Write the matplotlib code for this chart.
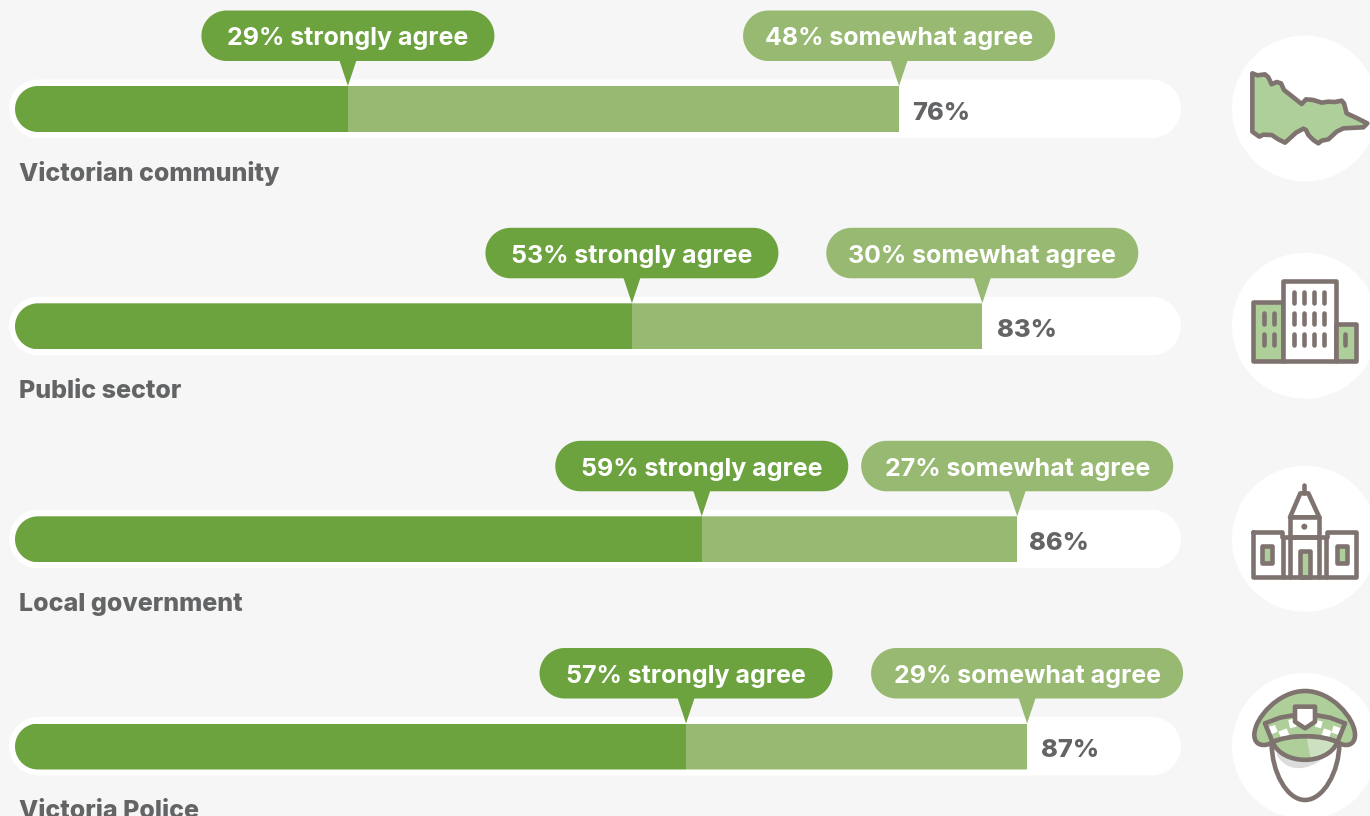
import numpy as np
import matplotlib
matplotlib.use("Agg")
import matplotlib.pyplot as plt
from matplotlib.patches import Circle, Polygon, PathPatch
from matplotlib.path import Path

# values
groups = ["Victorian community", "Public sector", "Local government", "Victoria Police"]
strongly = [28.6, 53, 59, 57.65]
totals = [75.95, 83.1, 86.1, 86.95]
strongly_labels = ["29% strongly agree", "53% strongly agree", "59% strongly agree", "57% strongly agree"]
somewhat_labels = ["48% somewhat agree", "30% somewhat agree", "27% somewhat agree", "29% somewhat agree"]
total_labels = ["76%", "83%", "86%", "87%"]

# layout, in pixels
W, H = 1370, 816
row_tops = [86, 303.3, 516.3, 723.5]
total_gaps = [13, 15, 12, 14]
BAR_H = 46
BG = "#f6f6f6"
DARK = "#6da33f"
LIGHT = "#98b972"
GREY = "#636466"
STROKE = "#7f7370"
FILL = "#aecf9a"
FONT = "Inter"
LW = 3.3

fig = plt.figure(figsize=(W / 100, H / 100), dpi=100, facecolor=BG)
back = fig.add_axes([0, 0, 1, 1], zorder=1)
back.set_xlim(0, W)
back.set_ylim(H, 0)
back.axis("off")

# x axis is percent, 0 at px 15 and 100 at px 1179; y stays in pixels
ax = fig.add_axes([15 / W, 0, 1164 / W, 1], zorder=2)
ax.set_xlim(0, 100)
ax.set_ylim(H, 0)
ax.axis("off")


def rounded(x, y, w, h, color, z=1):
    # real half circles at both ends, the round boxstyle comes out too square
    r = h / 2
    t = np.linspace(-np.pi / 2, np.pi / 2, 40)
    right = np.c_[x + w - r + r * np.cos(t), y + r + r * np.sin(t)]
    left = np.c_[x + r - r * np.cos(t), y + r - r * np.sin(t)]
    p = Polygon(np.r_[right, left], closed=True, fc=color, ec="none", zorder=z)
    back.add_patch(p)
    return p


def to_px(v):
    return ax.transData.transform((v, 0))[0]


def pill(v, top, width, color, label):
    cx = to_px(v)
    rounded(cx - width / 2, top - 75.5, width, 50.5, color)
    back.add_patch(Polygon([(cx - 8.5, top - 25.5), (cx + 8.5, top - 25.5), (cx, top)],
                           fc=color, ec="none", zorder=1))
    back.text(cx, top - 49.5, label, color="white", fontsize=18, fontweight="bold",
              family=FONT, ha="center", va="center_baseline", zorder=3)


for i, top in enumerate(row_tops):
    rounded(9, top - 6.5, 1172, 58.5, "white")
    clip = rounded(15, top, 1164, BAR_H, "none", z=0)
    y = top + BAR_H / 2
    b1 = ax.barh(y, strongly[i], height=BAR_H, color=DARK, linewidth=0)
    b2 = ax.barh(y, totals[i] - strongly[i], left=strongly[i], height=BAR_H, color=LIGHT, linewidth=0)
    for b in list(b1) + list(b2):
        b.set_clip_path(clip)
    pill(strongly[i], top, 293, DARK, strongly_labels[i])
    pill(totals[i], top, 312, LIGHT, somewhat_labels[i])
    back.text(to_px(totals[i]) + total_gaps[i], y + 1.6, total_labels[i], color=GREY, fontsize=18.3,
              fontweight="heavy", family=FONT, ha="left", va="center_baseline", zorder=3)
    back.text(19, top + 85.4, groups[i], color=GREY, fontsize=18,
              fontweight="heavy", family=FONT, ha="left", va="center_baseline", zorder=3)
    back.add_patch(Circle((1305, y - 0.5), 73, fc="white", ec="none", zorder=1))


# icons were measured on 3x crops, so crop coordinates go through here
def icon_pts(pts, ox, oy):
    return [(ox + px / 3, oy + py / 3) for px, py in pts]


def poly(pts, ox, oy, fc="none", lw=LW, z=4):
    back.add_patch(Polygon(icon_pts(pts, ox, oy), closed=True, fc=fc, ec=STROKE, lw=lw,
                           joinstyle="round", zorder=z))


def line(pts, ox, oy, lw=LW, z=5):
    xy = np.array(icon_pts(pts, ox, oy))
    back.plot(xy[:, 0], xy[:, 1], color=STROKE, lw=lw, solid_capstyle="round",
              solid_joinstyle="round", zorder=z)


def rect(x0, y0, x1, y1, ox, oy, fc="none", lw=LW, z=4):
    poly([(x0, y0), (x1, y0), (x1, y1), (x0, y1)], ox, oy, fc=fc, lw=lw, z=z)


def curve(verts, codes, ox, oy, fc="none", lw=LW, z=4, ec=STROKE):
    back.add_patch(PathPatch(Path(icon_pts(verts, ox, oy), codes), fc=fc, ec=ec, lw=lw,
                             capstyle="round", joinstyle="round", zorder=z))


# map of Victoria
ox, oy = 1220, 20
poly([(97, 160), (112, 166), (135, 163), (145, 172), (155, 193), (170, 186), (183, 190),
      (192, 210), (220, 232), (245, 252), (258, 238), (280, 240), (305, 248), (325, 245),
      (345, 246), (365, 242), (372, 250), (380, 280), (410, 294), (442, 310), (430, 322),
      (370, 325), (350, 335), (325, 358), (305, 362), (295, 370), (280, 360), (265, 345),
      (258, 330), (250, 326), (228, 338), (215, 350), (195, 368), (175, 358), (155, 345),
      (130, 344), (118, 350), (97, 335)], ox, oy, fc=FILL)

# office buildings
rect(100, 847, 190, 1022, ox, oy, fc=FILL)
rect(190, 783, 348, 1022, ox, oy, fc="white")
rect(348, 912, 407, 1022, ox, oy, fc=FILL)
for wx in (223, 253, 283, 313):
    for y0, y1 in ((815, 848), (878, 913), (942, 976)):
        line([(wx, y0), (wx, y1)], ox, oy)
for wx in (131, 161):
    for y0, y1 in ((878, 913), (942, 976)):
        line([(wx, y0), (wx, y1)], ox, oy)
line([(375, 942), (375, 976)], ox, oy)

# town hall
ox, oy = 1220, 450
line([(253, 105), (253, 128)], ox, oy)
poly([(241, 130), (265, 130), (298, 202), (210, 202)], ox, oy, fc="white")
rect(210, 202, 298, 262, ox, oy, fc="white")
line([(100, 245), (185, 245), (185, 262), (322, 262), (322, 245), (408, 245), (408, 382),
      (100, 382), (100, 245)], ox, oy)
for vx in (190, 210, 298, 318):
    line([(vx, 262), (vx, 382)], ox, oy)
rect(127, 288, 157, 338, ox, oy, fc=FILL)
rect(350, 288, 380, 338, ox, oy, fc=FILL)
rect(240, 302, 270, 382, ox, oy, fc=FILL)
back.add_patch(Circle((ox + 253 / 3, oy + 230 / 3), 3, fc=STROKE, ec="none", zorder=5))

# police cap, from a crop at (1250, 685)
ox, oy = 1250, 685
M, L, C, Z = Path.MOVETO, Path.LINETO, Path.CURVE4, Path.CLOSEPOLY
curve([(78, 205), (105, 262), (170, 262), (222, 218), (78, 205), (78, 205)],
      [M, C, C, C, L, Z], ox, oy, fc="#dcdcdc", lw=0, z=3, ec="none")
curve([(65, 175), (65, 260), (110, 345), (165, 345), (220, 345), (268, 260), (268, 175)],
      [M, C, C, C, C, C, C], ox, oy, z=5)
crown_v = [(13, 150), (13, 100), (85, 18), (165, 18), (245, 18), (315, 100), (315, 150),
           (315, 180), (290, 188), (262, 172), (220, 148), (110, 148), (68, 172),
           (40, 188), (13, 180), (13, 150), (13, 150)]
crown_c = [M, C, C, C, C, C, C, C, C, C, C, C, C, C, C, C, Z]
curve(crown_v, crown_c, ox, oy, fc=FILL, z=4)
visor_v = [(68, 172), (110, 148), (220, 148), (262, 172), (232, 242), (98, 242), (68, 172), (68, 172)]
visor_c = [M, C, C, C, C, C, C, Z]
curve(visor_v, visor_c, ox, oy, fc=FILL, lw=0, z=4.2, ec="none")
back.add_patch(Polygon(icon_pts([(170, 158), (225, 160), (260, 174), (238, 205), (182, 222)], ox, oy),
                       fc="#cde0c0", ec="none", zorder=4.3))
curve(visor_v, visor_c, ox, oy, z=5)
for pts in ([(50, 128), (75, 120), (83, 140), (60, 150)],
            [(85, 140), (110, 130), (118, 150), (93, 158)],
            [(115, 105), (135, 100), (140, 125), (120, 130)],
            [(200, 105), (218, 110), (213, 130), (195, 125)],
            [(222, 130), (245, 138), (237, 158), (215, 150)],
            [(250, 122), (275, 130), (267, 150), (245, 143)]):
    back.add_patch(Polygon(icon_pts(pts, ox, oy), fc="white", ec="none", zorder=4.5))
line([(45, 115), (68, 172)], ox, oy)
line([(285, 115), (262, 172)], ox, oy)
line([(45, 115), (90, 98), (135, 90)], ox, oy)
line([(195, 90), (240, 98), (285, 115)], ox, oy)
poly([(135, 65), (195, 65), (195, 110), (165, 130), (135, 110)], ox, oy, fc="white", z=5)

fig.savefig("out.png", dpi=100, facecolor=BG)
